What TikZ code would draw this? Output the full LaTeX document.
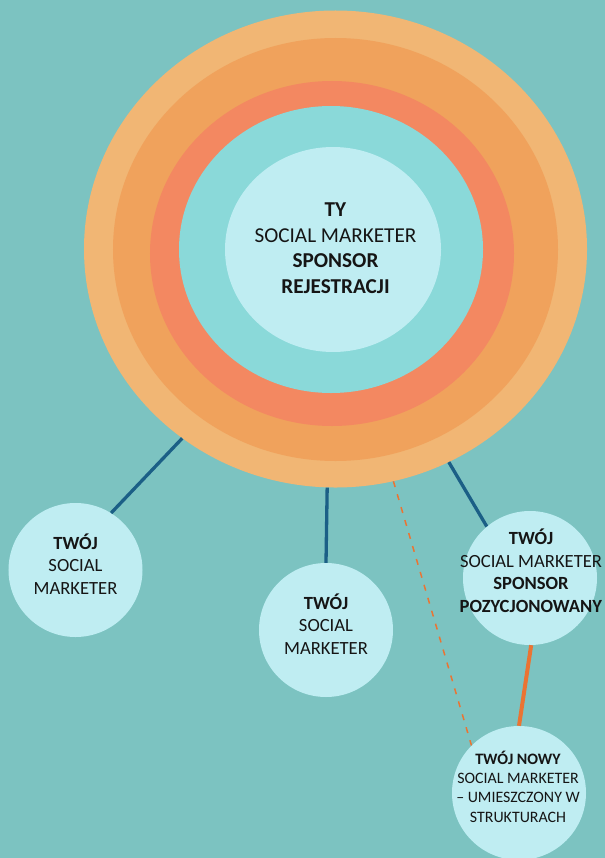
\documentclass[tikz,border=0pt]{standalone}
\usepackage{fontspec}
\setmainfont{Carlito}
\usetikzlibrary{shapes.geometric}
\definecolor{bgc}{HTML}{7CC3C1}
\definecolor{ringA}{HTML}{F1B674}
\definecolor{ringB}{HTML}{F0A25C}
\definecolor{ringC}{HTML}{F38861}
\definecolor{ringD}{HTML}{8AD9D9}
\definecolor{lightc}{HTML}{BFEDF2}
\definecolor{bluel}{HTML}{1B5F86}
\definecolor{orangel}{HTML}{EA7433}
\definecolor{textc}{HTML}{151515}
\tikzset{
  ring/.style={ellipse, draw=none, inner sep=0pt},
  bubble/.style={circle, draw=none, fill=lightc, minimum size=134bp, inner sep=0pt},
  txt/.style={inner sep=0pt, align=center, anchor=base, text=textc},
  bigtxt/.style={txt, font=\fontsize{21.2bp}{25.5bp}\selectfont},
  midtxt/.style={txt, font=\fontsize{18.6bp}{22.4bp}\selectfont},
  smalltxt/.style={txt, font=\fontsize{15.9bp}{19.3bp}\selectfont},
  blueline/.style={draw=bluel, line width=3.3bp},
  orangeline/.style={draw=orangel, line width=4bp},
  dashline/.style={draw=orangel, line width=1.5bp, dash pattern=on 6bp off 7.5bp}
}
\begin{document}
\begin{tikzpicture}[x=1bp,y=-1bp]
\fill[bgc] (0,0) rectangle (605,858);
\useasboundingbox (0,0) rectangle (605,858);
% concentric rings
\node[ring, fill=ringA, minimum width=503bp, minimum height=477bp] (outer) at (335.5,249) {};
\node[ring, fill=ringB, minimum width=445bp, minimum height=423bp] (second) at (335.5,249.5) {};
\node[ring, fill=ringC, minimum width=364bp, minimum height=345bp] (third) at (332,253.5) {};
\node[ring, fill=ringD, minimum width=304bp, minimum height=287bp] (fourth) at (331,249.5) {};
\node[ring, fill=lightc, minimum width=216bp, minimum height=205bp] (core) at (333,249.5) {};
\node[bigtxt] (coretxt) at (335.5,293) {\textbf{TY}\\SOCIAL MARKETER\\\textbf{SPONSOR}\\\textbf{REJESTRACJI}};
% child bubbles
\node[bubble] (c1) at (75.5,570) {};
\node[bubble] (c2) at (326,630) {};
\node[bubble] (c3) at (530,578) {};
\node[bubble] (c4) at (519,793) {};
\node[midtxt] (c1txt) at (75.5,594) {\textbf{TWÓJ}\\SOCIAL\\MARKETER};
\node[midtxt] (c2txt) at (326,654) {\textbf{TWÓJ}\\SOCIAL\\MARKETER};
\node[midtxt] (c3txt) at (531,612) {\textbf{TWÓJ}\\SOCIAL MARKETER\\\textbf{SPONSOR}\\\textbf{POZYCJONOWANY}};
\node[smalltxt] (c4txt) at (518,822) {\textbf{TWÓJ NOWY}\\SOCIAL MARKETER\\– UMIESZCZONY W\\STRUKTURACH};
% connectors
\draw[blueline] (outer.-129.4) -- (c1.58);
\draw[blueline] (outer.-92.5) -- (c2.90);
\draw[blueline] (outer.-62.5) -- (c3.130);
\draw[dashline] (outer.-76.1) -- (c4.135);
\draw[orangeline] (c3.-89) -- (c4.90);
\end{tikzpicture}
\end{document}
